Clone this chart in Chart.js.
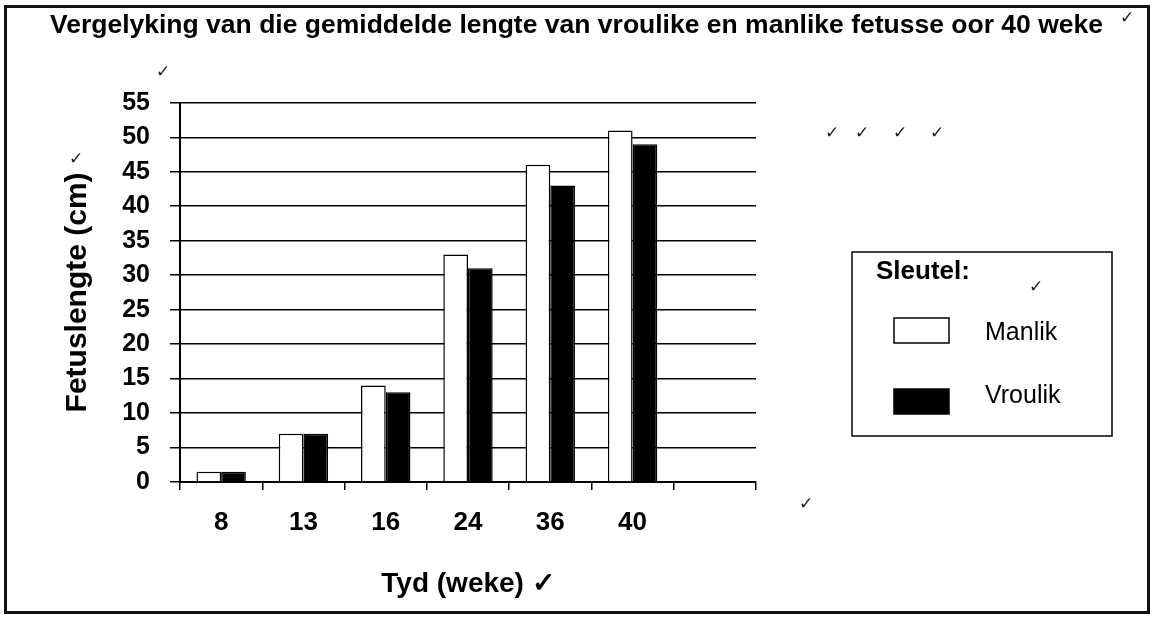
<!DOCTYPE html>
<html><head><meta charset="utf-8">
<script src="https://cdn.jsdelivr.net/npm/chart.js@4/dist/chart.umd.min.js"></script>
<style>html,body{margin:0;padding:0;background:#fff;}canvas{display:block;}</style>
</head><body>
<canvas id="c" width="1153" height="621"></canvas>
<script>
// ---- data ----
const categories = ['8', '13', '16', '24', '36', '40', ''];
const manlikValues = [1.5, 7, 14, 33, 46, 51, null];
const vroulikValues = [1.5, 7, 13, 31, 43, 49, null];
const seriesNames = ['Manlik', 'Vroulik'];
const yMin = 0, yMax = 55, yStep = 5;
const chartTitle = 'Vergelyking van die gemiddelde lengte van vroulike en manlike fetusse oor 40 weke';
const xTitle = 'Tyd (weke) \u2713';
const yTitle = 'Fetuslengte (cm)';
const legendTitle = 'Sleutel:';

// ---- helpers ----
const FONT = '"Liberation Sans", Arial, sans-serif';
Chart.defaults.font.family = FONT;
Chart.defaults.color = '#000';

const marks = [[1127, 19], [163, 73], [76, 160], [832, 134], [862, 134], [900, 134], [937, 134], [1036, 288], [806, 505]];

const decor = {
  id: 'decor',
  beforeDraw(chart) {
    const c = chart.ctx;
    c.save(); c.fillStyle = '#fff'; c.fillRect(0, 0, chart.width, chart.height); c.restore();
  },
  afterDraw(chart) {
    const c = chart.ctx;
    c.save();
    // outer frame
    c.strokeStyle = '#111'; c.lineWidth = 3;
    c.strokeRect(5.5, 6.5, 1143, 606);
    // legend box
    const bx = 852, by = 252, bw = 260, bh = 184;
    c.lineWidth = 1.5; c.strokeStyle = '#000';
    c.strokeRect(bx, by, bw, bh);
    c.fillStyle = '#000';
    c.font = 'bold 26px ' + FONT;
    c.textBaseline = 'middle'; c.textAlign = 'left';
    c.fillText(legendTitle, 876, 272);
    const ds = chart.data.datasets;
    const rows = [330, 401];
    ds.forEach((d, i) => {
      const y = rows[i];
      c.fillStyle = d.backgroundColor;
      c.fillRect(894, y - 12, 55, 25);
      c.strokeStyle = '#000'; c.lineWidth = 1.5;
      c.strokeRect(894, y - 12, 55, 25);
      c.fillStyle = '#000';
      c.font = '25px ' + FONT;
      c.fillText(d.label, 985, i === 0 ? y + 3 : y - 5);
    });
    // check marks
    c.font = '17px "DejaVu Sans"';
    c.fillStyle = '#222'; c.textAlign = 'center';
    marks.forEach(([x, y]) => c.fillText('\u2713', x, y));
    c.restore();
  }
};

new Chart(document.getElementById('c'), {
  type: 'bar',
  data: {
    labels: categories,
    datasets: [
      { label: seriesNames[0], data: manlikValues, backgroundColor: '#ffffff', borderColor: '#000', borderWidth: 1.5, yAxisID: 'y' },
      { label: seriesNames[1], data: vroulikValues, backgroundColor: '#000000', borderColor: '#000', borderWidth: 1.5, yAxisID: 'y' }
    ]
  },
  options: {
    responsive: false,
    animation: false,
    layout: { padding: 0 },
    datasets: { bar: { barPercentage: 1, categoryPercentage: 0.6 } },
    plugins: {
      legend: { display: false },
      tooltip: { enabled: false },
      title: {
        display: true, text: chartTitle, color: '#000',
        font: { size: 26.5, weight: 'bold', family: FONT },
        padding: { top: 10, bottom: 61 }
      }
    },
    scales: {
      x: {
        grid: { drawOnChartArea: false, color: '#000', lineWidth: 1.5, tickLength: 8, offset: true },
        border: { display: true, color: '#000', width: 2 },
        ticks: { font: { size: 26, weight: 'bold' }, color: '#000', padding: 17 },
        title: { display: true, text: xTitle, color: '#000', font: { size: 28, weight: 'bold' }, padding: { top: 0, bottom: 20 } },
        afterFit(s) { s.height = 139; }
      },
      y: {
        min: yMin, max: yMax,
        ticks: { stepSize: yStep, font: { size: 25, weight: 'bold' }, color: '#000', padding: 20 },
        grid: { color: '#000', lineWidth: 1.5, tickLength: 10 },
        border: { display: true, color: '#000', width: 2 },
        title: { display: true, text: yTitle, color: '#000', font: { size: 30, weight: 'bold' }, padding: { top: 60, bottom: 0 } },
        afterFit(s) { s.width = 180; }
      },
      pad: {
        type: 'linear', position: 'right', display: true,
        grid: { display: false }, ticks: { display: false }, border: { display: false },
        afterFit(s) { s.width = 397; }
      }
    }
  },
  plugins: [decor]
});
</script>
</body></html>
